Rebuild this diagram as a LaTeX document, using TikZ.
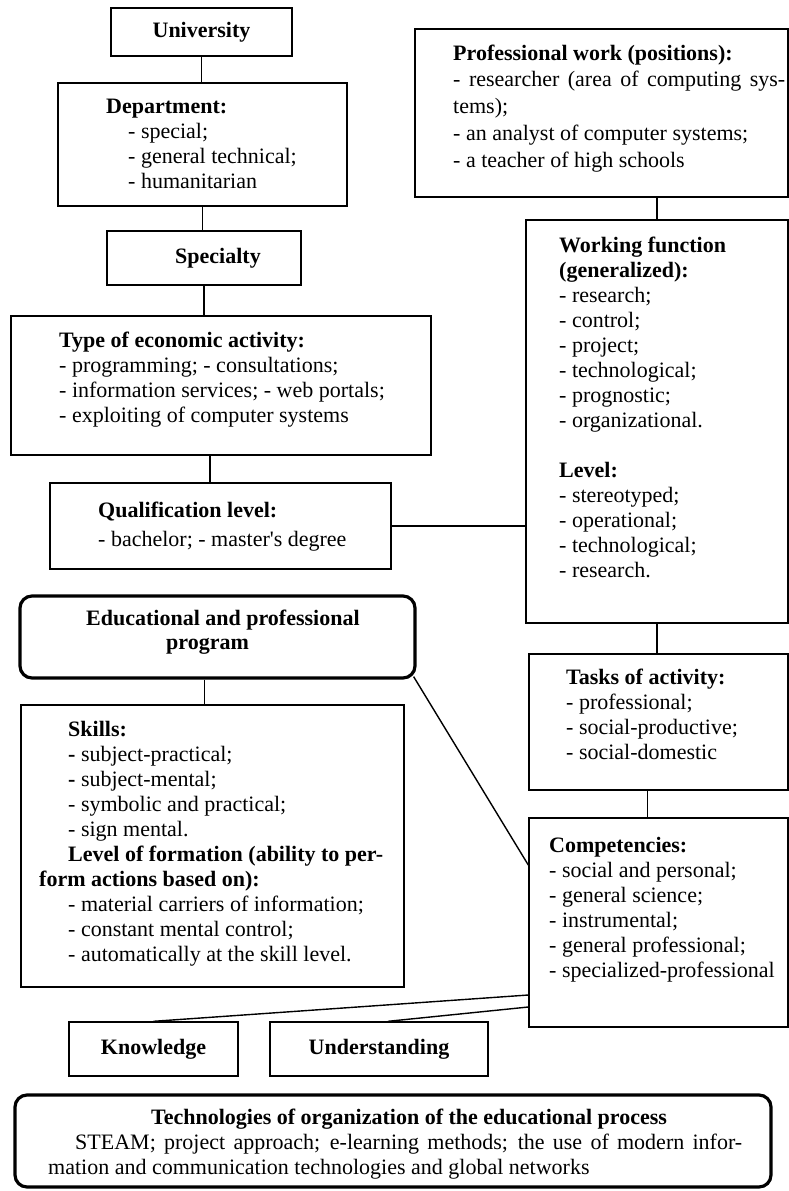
\documentclass[tikz,border=0pt]{standalone}
\usepackage{fontspec}
\setmainfont{Liberation Serif}[Ligatures=TeXOff]
\usetikzlibrary{calc}
\newcommand{\fz}{\fontsize{22}{25}\selectfont}
\newcommand{\st}{\rule{0pt}{17pt}}
\begin{document}
\begin{tikzpicture}[x=1pt,y=-1pt,
  box/.style={draw=black, line width=1.4pt, inner sep=0pt, font=\fz\bfseries},
  bigbox/.style={draw=black, line width=3.2pt, rounded corners=12pt, inner sep=0pt},
  txt/.style={anchor=north west, inner sep=0pt, align=left, font=\fz},
  conn/.style={draw=black, line width=1.4pt}]
\useasboundingbox (0,0) rectangle (789,1191);

% boxes
\node[box, minimum width=181pt, minimum height=48pt] (univ) at (201.5,32) {University};
\node[box, minimum width=289pt, minimum height=123pt] (dept) at (202.5,144.5) {};
\node[box, minimum width=194pt, minimum height=54pt] (spec) at (204,258) {\hspace*{28pt}Specialty};
\node[box, minimum width=420pt, minimum height=139pt] (econ) at (221,385.5) {};
\node[box, minimum width=341pt, minimum height=86pt] (qual) at (220.5,526) {};
\node[box, minimum width=373pt, minimum height=168pt] (prof) at (601.5,113) {};
\node[box, minimum width=262pt, minimum height=403pt] (work) at (657,421.5) {};
\node[bigbox, minimum width=395pt, minimum height=82pt] (edu) at (217.5,637) {};
\node[box, minimum width=383pt, minimum height=282pt] (skills) at (212.5,846) {};
\node[box, minimum width=259pt, minimum height=136pt] (tasks) at (658.5,722) {};
\node[box, minimum width=259pt, minimum height=209pt] (comp) at (658.5,922.5) {};
\node[box, minimum width=169pt, minimum height=54pt] (know) at (153.5,1049) {Knowledge};
\node[box, minimum width=218pt, minimum height=54pt] (und) at (379,1049) {Understanding};
\node[bigbox, minimum width=756pt, minimum height=92pt] (tech) at (393,1141) {};

% texts
\node[txt] (deptT) at (106,96) {\st\textbf{Department:}\\
\hspace*{22pt}- special;\\
\hspace*{22pt}- general technical;\\
\hspace*{22pt}- humanitarian};

\node[txt] (econT) at (59,330) {\st\textbf{Type of economic activity:}\\
- programming; - consultations;\\
- information services; - web portals;\\
- exploiting of computer systems};

\node[txt] (qualT) at (98,500) {\st\textbf{Qualification level:}\\[4pt]
- bachelor; - master's degree};

\node[txt, font=\fontsize{22}{26.7}\selectfont] (profT) at (453,43) {\st\textbf{Professional work (positions):}\\
\makebox[332pt][s]{- researcher (area of computing sys-}\\
tems);\\
- an analyst of computer systems;\\
- a teacher of high schools};

\node[txt] (workT) at (559,235) {\st\textbf{Working function}\\
\textbf{(generalized):}\\
- research;\\
- control;\\
- project;\\
- technological;\\
- prognostic;\\
- organizational.\\[25pt]
\textbf{Level:}\\
- stereotyped;\\
- operational;\\
- technological;\\
- research.};

\node[txt, font=\fontsize{22}{24.5}\selectfont] (eduT) at (86,608) {\st\textbf{Educational and professional}\\
\hspace*{80pt}\textbf{program}};

\node[txt] (tasksT) at (566,667) {\st\textbf{Tasks of activity:}\\
- professional;\\
- social-productive;\\
- social-domestic};

\node[txt] (skillsT) at (39,719) {\st\hspace*{29pt}\textbf{Skills:}\\
\hspace*{29pt}\textbf{-} subject-practical;\\
\hspace*{29pt}\textbf{-} subject-mental;\\
\hspace*{29pt}- symbolic and practical;\\
\hspace*{29pt}- sign mental.\\
\hspace*{29pt}\textbf{Level of formation (ability to per-}\\
\textbf{form actions based on):}\\
\hspace*{29pt}- material carriers of information;\\
\hspace*{29pt}- constant mental control;\\
\hspace*{29pt}- automatically at the skill level.};

\node[txt] (compT) at (549,835) {\st\textbf{Competencies:}\\
- social and personal;\\
- general science;\\
- instrumental;\\
- general professional;\\
- specialized-professional};

\node[txt] (techT) at (48,1107) {\st\hspace*{103pt}\textbf{Technologies of organization of the educational process}\\
\hspace*{27pt}\makebox[667pt][s]{STEAM; project approach; e-learning methods; the use of modern infor-}\\
mation and communication technologies and global networks};

% connectors
\coordinate (c1) at ([xshift=-11pt]econ.south);
\coordinate (c3) at ([xshift=-11pt]tasks.south);
\coordinate (c4) at ([xshift=-13pt]edu.south);
\coordinate (c5) at ([xshift=-3pt,yshift=3pt]edu.south east);
\coordinate (c6) at ([yshift=57.5pt]comp.west);
\coordinate (c7) at ([yshift=-72.5pt]comp.west);
\coordinate (c8) at ([yshift=-84.5pt]comp.west);
\coordinate (c9) at ([xshift=9pt]und.north);

\draw[conn] (univ.south) -- (univ.south |- dept.north);
\draw[conn] (dept.south) -- (dept.south |- spec.north);
\draw[conn] (spec.south) -- (spec.south |- econ.north);
\draw[conn] (c1) -- (c1 |- qual.north);
\draw[conn] (qual.east) -- (qual.east -| work.west);
\draw[conn] (work.north |- prof.south) -- (work.north);
\draw[conn] (work.south) -- (work.south |- tasks.north);
\draw[conn] (c3) -- (c3 |- comp.north);
\draw[conn] (c4) -- (c4 |- skills.north);
\draw[conn] (c5) -- (c6);
\draw[conn] (c7) -- (know.north);
\draw[conn] (c8) -- (c9);
\end{tikzpicture}
\end{document}
